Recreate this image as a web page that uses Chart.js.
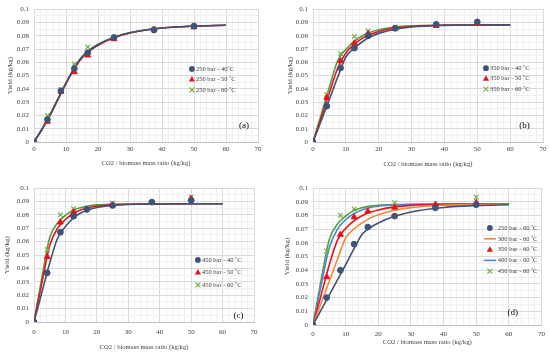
<!DOCTYPE html>
<html>
<head>
<meta charset="utf-8">
<script src="https://cdn.jsdelivr.net/npm/chart.js@4.4.0/dist/chart.umd.min.js"></script>
<style>
html, body { margin: 0; padding: 0; background: #fff; }
#wrap { position: relative; width: 550px; height: 354px; }
#wrap canvas { position: absolute; }
</style>
</head>
<body>
<div id="wrap">
  <canvas id="pa" width="275" height="177" style="left:0;top:0"></canvas>
  <canvas id="pb" width="275" height="177" style="left:275px;top:0"></canvas>
  <canvas id="pc" width="275" height="177" style="left:0;top:177px"></canvas>
  <canvas id="pd" width="275" height="177" style="left:275px;top:177px"></canvas>
</div>
<script>
// x values: measured points and fitted model curves
const ratioPts = [0, 4.2, 8.4, 12.6, 16.8, 25, 37.5, 50];
const ratioFit = [0, 2.5, 5, 7.5, 10, 12.5, 15, 17.5, 20, 25, 30, 40, 50, 60];

// (a) 250 bar
const a250_40 = [0, 0.0169, 0.0385, 0.0553, 0.0672, 0.0787, 0.0843, 0.0872];
const a250_50 = [0, 0.0154, 0.0380, 0.0527, 0.0653, 0.0775, 0.0848, 0.0866];
const a250_60 = [0, 0.0199, 0.0397, 0.0588, 0.0716, 0.0790, 0.0850, 0.0883];
const aFit40 = [0, 0.0098, 0.0205, 0.0327, 0.0445, 0.0553, 0.0638, 0.0692, 0.0732, 0.0787, 0.0822, 0.0858, 0.0873, 0.0879];
const aFit50 = [0, 0.0096, 0.0202, 0.0322, 0.0440, 0.0548, 0.0633, 0.0688, 0.0729, 0.0785, 0.0821, 0.0858, 0.0873, 0.0879];
const aFit60 = [0, 0.0094, 0.0198, 0.0320, 0.0441, 0.0555, 0.0643, 0.0697, 0.0736, 0.0789, 0.0824, 0.0859, 0.0874, 0.0879];

// (b) 350 bar
const b350_40 = [0, 0.0270, 0.0558, 0.0707, 0.0800, 0.0856, 0.0886, 0.0905];
const b350_50 = [0, 0.0335, 0.0610, 0.0745, 0.0815, 0.0855, 0.0875, 0.0893];
const b350_60 = [0, 0.0358, 0.0665, 0.0795, 0.0835, 0.0865, 0.0880, 0.0895];
const bFit40 = [0, 0.0160, 0.0322, 0.0487, 0.0640, 0.0705, 0.0755, 0.0792, 0.0818, 0.0849, 0.0866, 0.0878, 0.0881, 0.0882];
const bFit50 = [0, 0.0185, 0.0370, 0.0555, 0.0670, 0.0735, 0.0780, 0.0810, 0.0832, 0.0858, 0.0870, 0.0879, 0.0881, 0.0882];
const bFit60 = [0, 0.0208, 0.0415, 0.0612, 0.0697, 0.0757, 0.0798, 0.0826, 0.0845, 0.0866, 0.0875, 0.0880, 0.0882, 0.0882];

// (c) 450 bar
const c450_40 = [0, 0.0367, 0.0670, 0.0790, 0.0840, 0.0870, 0.0895, 0.0908];
const c450_50 = [0, 0.0486, 0.0744, 0.0820, null, 0.0873, null, 0.0920];
const c450_60 = [0, 0.0540, 0.0800, 0.0846, null, 0.0888, null, 0.0933];
const cFit40 = [0, 0.0220, 0.0440, 0.0625, 0.0712, 0.0775, 0.0815, 0.0840, 0.0855, 0.0870, 0.0877, 0.0881, 0.0882, 0.0882];
const cFit50 = [0, 0.0290, 0.0570, 0.0700, 0.0765, 0.0810, 0.0838, 0.0855, 0.0865, 0.0875, 0.0879, 0.0881, 0.0882, 0.0882];
const cFit60 = [0, 0.0330, 0.0630, 0.0740, 0.0795, 0.0835, 0.0855, 0.0868, 0.0874, 0.0879, 0.0881, 0.0882, 0.0882, 0.0882];

// (d) 60 °C, all pressures
const d250 = [0, 0.0200, 0.0400, 0.0590, 0.0715, 0.0795, 0.0855, 0.0878];
const d350 = [0, 0.0350, 0.0660, 0.0787, 0.0830, 0.0858, 0.0880, 0.0893];
const d450 = [0, 0.0540, 0.0800, 0.0847, null, 0.0893, null, 0.0933];
const dFit250 = [0, 0.0110, 0.0220, 0.0330, 0.0440, 0.0553, 0.0660, 0.0710, 0.0745, 0.0793, 0.0825, 0.0858, 0.0872, 0.0878];
const dFit300 = [0, 0.0160, 0.0320, 0.0480, 0.0635, 0.0700, 0.0745, 0.0780, 0.0805, 0.0838, 0.0857, 0.0874, 0.0879, 0.0881];
const dFit350 = [0, 0.0220, 0.0440, 0.0620, 0.0705, 0.0760, 0.0798, 0.0823, 0.0840, 0.0862, 0.0873, 0.0880, 0.0882, 0.0882];
const dFit400 = [0, 0.0290, 0.0565, 0.0700, 0.0768, 0.0812, 0.0840, 0.0857, 0.0867, 0.0876, 0.0880, 0.0882, 0.0882, 0.0882];
const dFit450 = [0, 0.0330, 0.0625, 0.0738, 0.0795, 0.0835, 0.0856, 0.0868, 0.0874, 0.0879, 0.0881, 0.0882, 0.0882, 0.0882];

const FONT = "'Liberation Serif', 'Times New Roman', serif";
const TXT = '#404040';
const DARK = '#3f5277', RED = '#e8101a', GREEN = '#5c9b3d', GREEN_PT = '#74b04f', ORANGE = '#f28a3b', BLUE = '#4f86d6';

function isMajor(v, step) {
    const r = v / step;
    return Math.abs(r - Math.round(r)) < 1e-6;
}

function pts(label, ys, color, style, r) {
    return {
        label: label,
        data: ratioPts.map((x, i) => ({x: x, y: ys[i]})).filter(d => d.y !== null),
        showLine: false,
        pointStyle: style,
        pointRadius: r,
        backgroundColor: color,
        borderColor: color,
        borderWidth: style === 'crossRot' ? 1.2 : 1
    };
}

function fit(label, ys, color) {
    return {
        label: label,
        data: ratioFit.map((x, i) => ({x: x, y: ys[i]})),
        showLine: true,
        pointRadius: 0,
        borderColor: color,
        borderWidth: 1.6,
        cubicInterpolationMode: 'monotone',
        fill: false
    };
}

// legend + panel letter drawn inside the plot area
const panelDecor = {
    id: 'panelDecor',
    afterDatasetsDraw(chart, args, o) {
        const ctx = chart.ctx, a = chart.chartArea;
        ctx.save();
        const mx = a.left + o.lx * (a.right - a.left);
        let y = a.top + o.ly * (a.bottom - a.top);
        ctx.font = o.size + 'px ' + FONT;
        ctx.textBaseline = 'middle';
        ctx.textAlign = 'left';
        o.items.forEach(idx => {
            const ds = chart.data.datasets[idx];
            const c = ds.borderColor;
            ctx.fillStyle = c;
            ctx.strokeStyle = c;
            if (ds.showLine) {
                ctx.lineWidth = 1.6;
                ctx.beginPath();
                ctx.moveTo(mx - 6, y);
                ctx.lineTo(mx + 6, y);
                ctx.stroke();
            } else if (ds.pointStyle === 'circle') {
                ctx.beginPath();
                ctx.arc(mx, y, ds.pointRadius, 0, Math.PI * 2);
                ctx.fill();
            } else if (ds.pointStyle === 'triangle') {
                const r = ds.pointRadius;
                ctx.beginPath();
                ctx.moveTo(mx, y - r);
                ctx.lineTo(mx + r * 0.9, y + r * 0.6);
                ctx.lineTo(mx - r * 0.9, y + r * 0.6);
                ctx.closePath();
                ctx.fill();
            } else {
                const r = ds.pointRadius * 0.75;
                ctx.lineWidth = 1.2;
                ctx.beginPath();
                ctx.moveTo(mx - r, y - r); ctx.lineTo(mx + r, y + r);
                ctx.moveTo(mx + r, y - r); ctx.lineTo(mx - r, y + r);
                ctx.stroke();
            }
            ctx.fillStyle = TXT;
            ctx.fillText(ds.label, mx + o.tx, y);
            y += o.dy;
        });
        ctx.font = '9px ' + FONT;
        ctx.textAlign = 'center';
        ctx.fillStyle = '#000';
        ctx.fillText(o.tag, a.left + o.px * (a.right - a.left), a.top + o.py * (a.bottom - a.top));
        ctx.restore();
    }
};

function makeChart(id, p) {
    new Chart(document.getElementById(id), {
        type: 'scatter',
        data: {datasets: p.datasets},
        options: {
            responsive: false,
            animation: false,
            layout: {padding: {left: p.padL, top: p.top, right: 275 - p.right, bottom: p.padB}},
            plugins: {
                legend: {display: false},
                tooltip: {enabled: false},
                panelDecor: p.decor
            },
            scales: {
                x: {
                    type: 'linear', min: 0, max: 70,
                    border: {display: true, color: '#bfbfbf'},
                    grid: {drawTicks: false, color: c => isMajor(c.tick.value, 10) ? '#d9d9d9' : '#f0f0f0'},
                    ticks: {
                        stepSize: 2, autoSkip: false, maxRotation: 0, padding: p.xPad,
                        color: TXT, font: {family: FONT, size: 7},
                        callback: v => isMajor(v, 10) ? String(v) : ''
                    },
                    title: {display: true, text: 'CO2 / biomass mass ratio (kg/kg)', color: TXT,
                            font: {family: FONT, size: 6.6}, padding: 0},
                    afterFit: s => { s.height = p.xH; }
                },
                y: {
                    min: 0, max: 0.1,
                    border: {display: false},
                    grid: {drawTicks: false, color: c => isMajor(c.tick.value, 0.01) ? '#d9d9d9' : '#f0f0f0'},
                    ticks: {
                        stepSize: 0.005, autoSkip: false, padding: 5,
                        color: TXT, font: {family: FONT, size: 7},
                        callback: v => isMajor(v, 0.01) ? String(Math.round(v * 100) / 100) : ''
                    },
                    title: {display: true, text: 'Yield (kg/kg)', color: TXT,
                            font: {family: FONT, size: 7}, padding: 0},
                    afterFit: s => { s.width = p.left - p.padL; }
                }
            }
        },
        plugins: [panelDecor]
    });
}

makeChart('pa', {
    padL: 5.7, left: 34, right: 258, top: 7, padB: 9.7, xH: 25.3, xPad: 3,
    datasets: [
        pts('250 bar - 40ºC', a250_40, DARK, 'circle', 2.9),
        pts('250 bar - 50 ºC', a250_50, RED, 'triangle', 3.4),
        pts('250 bar - 60 ºC', a250_60, GREEN_PT, 'crossRot', 3.3),
        fit('fit 40', aFit40, DARK),
        fit('fit 50', aFit50, RED),
        fit('fit 60', aFit60, GREEN)
    ],
    decor: {items: [0, 1, 2], lx: 0.705, ly: 0.45, dy: 10.5, tx: 4, size: 6.5, tag: '(a)', px: 0.9375, py: 0.88}
});

makeChart('pb', {
    padL: 10.7, left: 38, right: 268, top: 7, padB: 9, xH: 26, xPad: 3,
    datasets: [
        pts('350 bar - 40 ºC', b350_40, DARK, 'circle', 2.9),
        pts('350 bar - 50 ºC', b350_50, RED, 'triangle', 3.4),
        pts('350 bar - 60 ºC', b350_60, GREEN_PT, 'crossRot', 3.3),
        fit('fit 40', bFit40, DARK),
        fit('fit 50', bFit50, RED),
        fit('fit 60', bFit60, GREEN)
    ],
    decor: {items: [0, 1, 2], lx: 0.752, ly: 0.444, dy: 10.5, tx: 4, size: 6.5, tag: '(b)', px: 0.92, py: 0.88}
});

makeChart('pc', {
    padL: 2.7, left: 34, right: 254, top: 11, padB: 2.7, xH: 29.3, xPad: 6,
    datasets: [
        pts('450 bar - 40 ºC', c450_40, DARK, 'circle', 2.9),
        pts('450 bar - 50 ºC', c450_50, RED, 'triangle', 3.4),
        pts('450 bar - 60 ºC', c450_60, GREEN_PT, 'crossRot', 3.3),
        fit('fit 40', cFit40, DARK),
        fit('fit 50', cFit50, RED),
        fit('fit 60', cFit60, GREEN)
    ],
    decor: {items: [0, 1, 2], lx: 0.745, ly: 0.537, dy: 12.5, tx: 4, size: 6.5, tag: '(c)', px: 0.93, py: 0.955}
});

makeChart('pd', {
    padL: 7.7, left: 38, right: 268, top: 11, padB: 7.7, xH: 21.3, xPad: 5,
    datasets: [
        pts('250 bar - 60 ºC', d250, DARK, 'circle', 2.9),
        pts('350 bar - 60 ºC', d350, RED, 'triangle', 3.4),
        pts('450 bar - 60 ºC', d450, GREEN_PT, 'crossRot', 3.3),
        fit('250 fit', dFit250, DARK),
        fit('300 bar - 60 ºC', dFit300, ORANGE),
        fit('350 fit', dFit350, RED),
        fit('400 bar - 60 ºC', dFit400, BLUE),
        fit('450 fit', dFit450, GREEN)
    ],
    decor: {items: [0, 4, 1, 6, 2], lx: 0.774, ly: 0.292, dy: 10.8, tx: 8, size: 6.5, tag: '(d)', px: 0.874, py: 0.912}
});
</script>
</body>
</html>
